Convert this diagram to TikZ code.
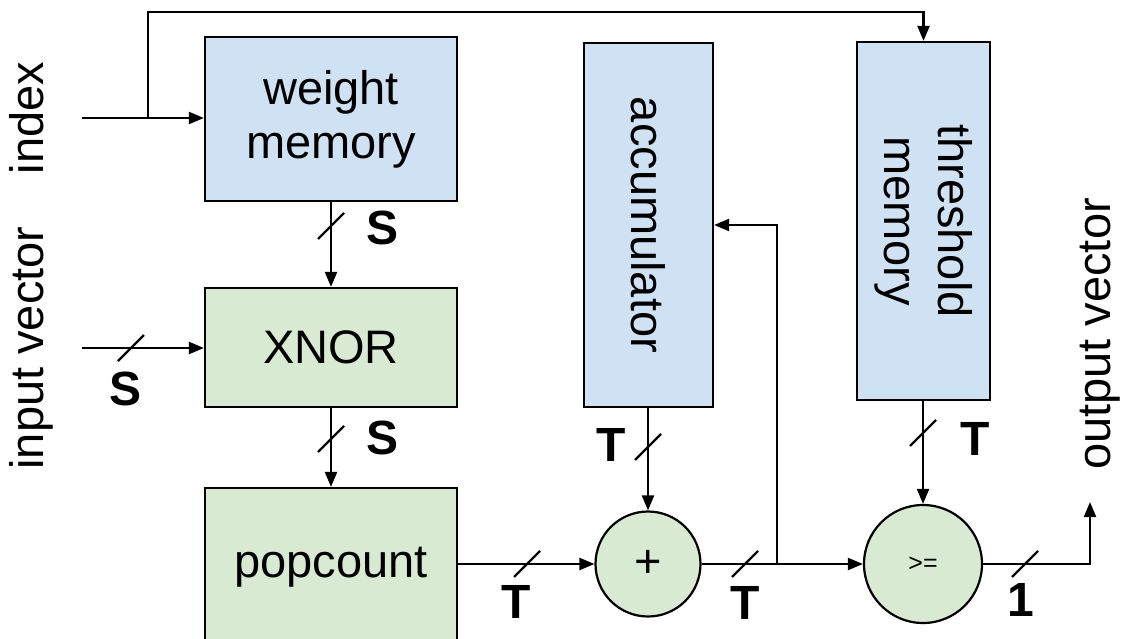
\documentclass[tikz,border=0pt]{standalone}
\usepackage{fontspec}
\setmainfont{Liberation Sans}
\usetikzlibrary{arrows.meta}
\definecolor{memblue}{HTML}{CFE2F3}
\definecolor{opgreen}{HTML}{D9EAD3}
\tikzstyle{block} = [draw, rectangle, line width=2.2pt, inner sep=0pt]
\tikzstyle{op} = [draw, circle, line width=2.2pt, fill=opgreen, inner sep=0pt]
\tikzstyle{bus} = [font=\fontsize{48}{48}\selectfont\bfseries]
\tikzstyle{port} = [coordinate]

\begin{document}
\begin{tikzpicture}[x=1pt, y=-1pt, line width=2.2pt, >={Triangle[length=15pt,width=12pt]},
    font=\fontsize{47}{54}\selectfont]
\useasboundingbox (0,0) rectangle (1123,639);

    % We start by placing the blocks
    \node [block, fill=memblue, minimum width=252pt, minimum height=164pt, align=center] (wmem) at (331,119) {weight\\memory};
    \node [block, fill=opgreen, minimum width=252pt, minimum height=119pt] (xnor) at (331,347.5) {XNOR};
    \node [block, fill=opgreen, minimum width=252pt, minimum height=158pt] (popc) at (331,567) {popcount};
    \node [block, fill=memblue, minimum width=129pt, minimum height=364pt] (acc) at (648.5,225) {};
    \node [rotate=-90] (acclbl) at (acc) {accumulator};
    \node [block, fill=memblue, minimum width=133pt, minimum height=358pt] (thr) at (923.5,221) {};
    \node [rotate=-90, align=center] (thrlbl) at (thr) {threshold\\memory};
    \node [op, minimum size=105pt] (add) at (648,564) {+};
    \node [op, minimum size=118pt, font=\fontsize{25}{25}\selectfont] (cmp) at (923,564) {>=};

    % signal names
    \node [rotate=90, anchor=base] (idxlbl) at (43,118) {index};
    \node [rotate=90, anchor=base] (veclbl) at (43,348) {input vector};
    \node [rotate=90, anchor=base] (outlbl) at (1110,334) {output vector};

    \node [port] (idxin) at (82,118) {};
    \node [port] (idxtap) at (148,118) {};
    \node [port] (vecin) at (82,348) {};
    \node [port] (fb) at (777,564) {};
    \node [port] (vecout) at (1090,502) {};

    % Once the nodes are placed, connecting them is easy.
    \draw [->] (idxin) -- (idxin -| wmem.west);
    \draw [->] (idxtap) -- ++(0,-106) -| (thr.north);
    \draw [->] (vecin) -- (vecin -| xnor.west);
    \draw [->] (wmem) -- (xnor);
    \draw [->] (xnor) -- (popc);
    \draw [->] (popc.east |- add) -- (add);
    \draw [->] (acc.south -| add) -- (add);
    \draw [->] (add) -- (cmp);
    \draw [->] (fb) |- (acc.east);
    \draw [->] (thr.south -| cmp) -- (cmp);
    \draw [->] (cmp) -| (vecout);

    % bus width ticks
    \foreach \x/\y in {331/226, 131/348, 331/439, 527/564, 648/447, 745/564, 923/433, 1025/564}
        \draw (\x,\y) ++(-13,13) -- ++(26,-26);

    \node [bus] (wS) at (383,228) {S};
    \node [bus] (vS) at (126,389) {S};
    \node [bus] (xS) at (383,438) {S};
    \node [bus] (pT) at (516,602) {T};
    \node [bus] (aT) at (611,445) {T};
    \node [bus] (sT) at (745,603) {T};
    \node [bus] (tT) at (975,439) {T};
    \node [bus] (o1) at (1021,600) {1};

\end{tikzpicture}
\end{document}
